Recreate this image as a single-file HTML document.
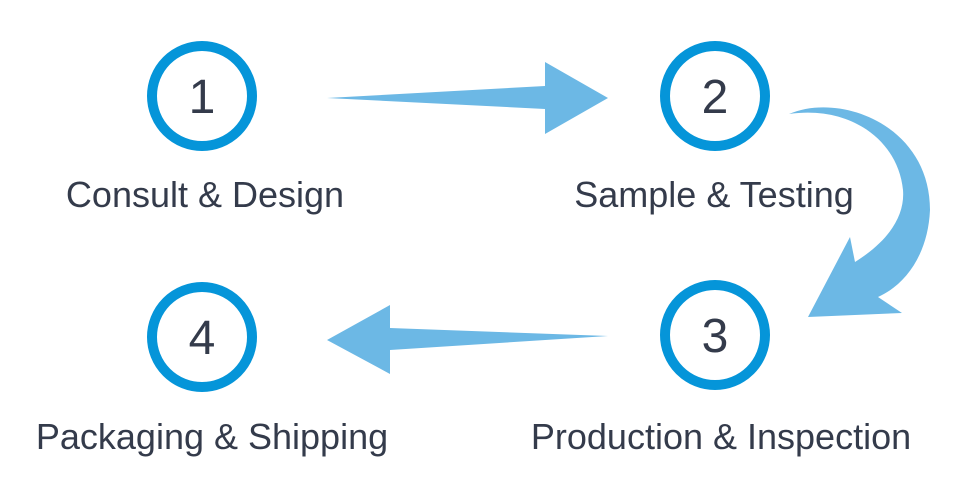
<!DOCTYPE html>
<html><head><style>
html,body{margin:0;padding:0;background:#fff;}
svg{display:block;}
text{font-family:"Liberation Sans",Arial,sans-serif;fill:#343b4b;}
</style></head><body>
<svg width="960" height="500" viewBox="0 0 960 500">
<g fill="none" stroke="#0595d9" stroke-width="10">
<circle cx="202" cy="96" r="50"/>
<circle cx="715" cy="96" r="50"/>
<circle cx="715" cy="335" r="50"/>
<circle cx="202" cy="337" r="50"/>
</g>
<g font-size="48" text-anchor="middle">
<text x="202" y="113">1</text>
<text x="715" y="113">2</text>
<text x="715" y="352">3</text>
<text x="202" y="354">4</text>
</g>
<g font-size="36" text-anchor="middle">
<text x="205" y="207">Consult &amp; Design</text>
<text x="714" y="207">Sample &amp; Testing</text>
<text x="721" y="449">Production &amp; Inspection</text>
<text x="212" y="449">Packaging &amp; Shipping</text>
</g>
<g fill="#6cb8e5">
<path d="M327,98 L545,86 L545,62 L608,98 L545,134 L545,109 Z"/>
<path d="M608,336 L390,328 L390,305 L327,340 L390,374 L390,350 Z"/>
<path d="M789,114 C840,92 930,125 930,210 C928,255 905,285 878,297 L902,313 L808,317 L850,237 L855,262 C890,240 905,215 903,190 C898,140 850,105 789,114 Z"/>
</g>
</svg>
</body></html>
